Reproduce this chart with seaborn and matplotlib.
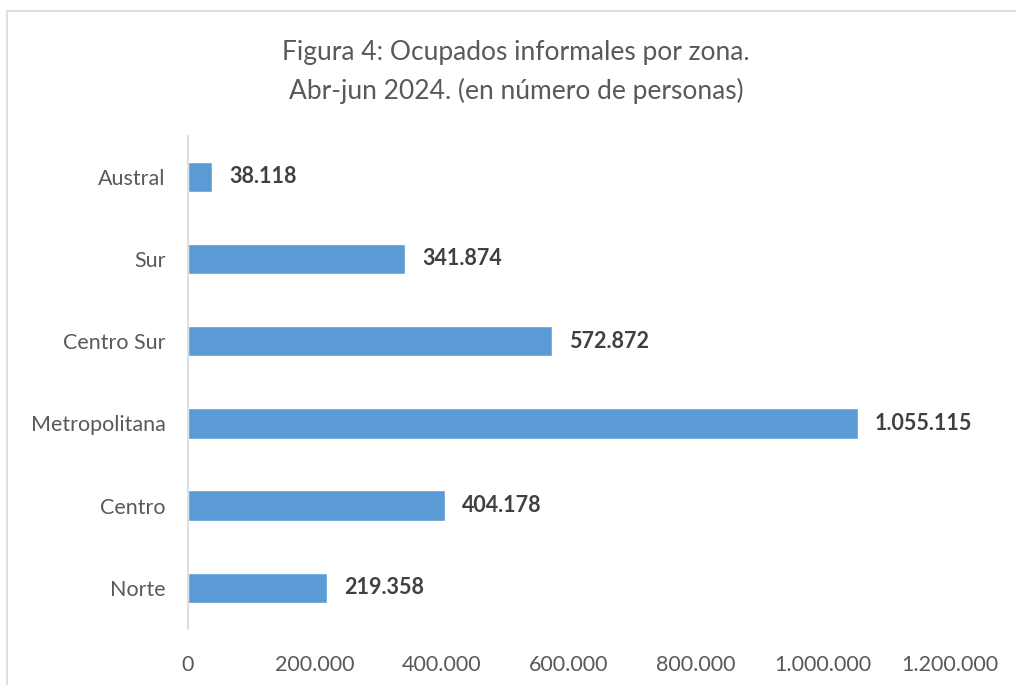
import matplotlib
matplotlib.use('Agg')
import matplotlib.pyplot as plt
import matplotlib.ticker as mticker
from matplotlib.lines import Line2D
import pandas as pd
import seaborn as sns

# ----------------- data -----------------
zonas = ['Austral', 'Sur', 'Centro Sur', 'Metropolitana', 'Centro', 'Norte']
ocupados = [38118, 341874, 572872, 1055115, 404178, 219358]
x_ticks = [0, 200000, 400000, 600000, 800000, 1000000, 1200000]

titulo = 'Figura 4: Ocupados informales por zona.\nAbr-jun 2024. (en número de personas)'


# format numbers with dots as thousands separator
def miles(v):
    return f'{int(round(v)):,}'.replace(',', '.')


df = pd.DataFrame({'zona': zonas, 'ocupados': ocupados})

sns.set_style('white')
plt.rcParams['font.family'] = ['Lato', 'DejaVu Sans']

fig = plt.figure(figsize=(10.16, 6.85), dpi=100)
ax = fig.add_axes([0.185, 0.082, 0.750, 0.720])

sns.barplot(data=df, x='ocupados', y='zona', order=zonas, color='#5B9BD5',
            width=0.37, saturation=1, ax=ax)

# value labels next to each bar
for i, v in enumerate(ocupados):
    ax.text(v + 27000, i, miles(v), va='center', ha='left',
            fontsize=15.5, fontweight='bold', color='#404040')

ax.set_xlim(0, 1200000)
ax.set_ylim(len(zonas) - 0.5, -0.5)
ax.set_xticks(x_ticks)
ax.xaxis.set_major_formatter(mticker.FuncFormatter(lambda v, p: miles(v)))
ax.set_xlabel('')
ax.set_ylabel('')
ax.tick_params(axis='x', length=0, pad=19, labelsize=15.5, labelcolor='#595959')
ax.tick_params(axis='y', length=0, pad=16, labelsize=15.5, labelcolor='#595959')

for s in ['top', 'right', 'bottom']:
    ax.spines[s].set_visible(False)
ax.spines['left'].set_color('#D9D9D9')
ax.spines['left'].set_linewidth(1.2)

fig.text(0.508, 0.942, titulo, ha='center', va='top', fontsize=19,
         color='#595959', linespacing=1.6)

# chart frame (top and left edges visible)
fig.add_artist(Line2D([7 / 1016, 1], [1 - 11 / 685, 1 - 11 / 685],
                      transform=fig.transFigure, color='#D9D9D9', lw=1.2))
fig.add_artist(Line2D([7 / 1016, 7 / 1016], [0, 1 - 11 / 685],
                      transform=fig.transFigure, color='#D9D9D9', lw=1.2))

plt.savefig('out.png', dpi=100)
plt.close()
